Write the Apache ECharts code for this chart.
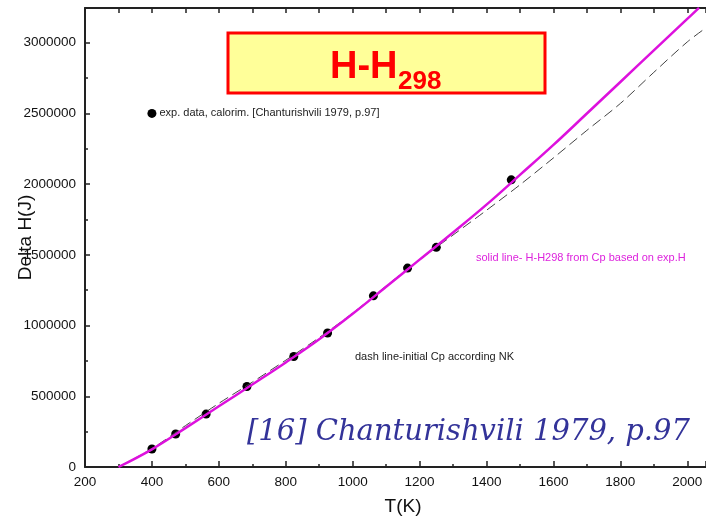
<!DOCTYPE html>
<html>
<head>
<meta charset="utf-8">
<script src="https://cdn.jsdelivr.net/npm/echarts@6/dist/echarts.min.js"></script>
<style>
html,body{margin:0;padding:0;background:#fff;}
#chart{width:706px;height:519px;}
</style>
</head>
<body>
<div id="chart"></div>
<script>
// Experimental calorimetric data [Chanturishvili 1979, p.97]
const expT = [400, 471, 562, 684, 824, 925, 1062, 1164, 1250, 1474];
const expH = [127000, 233000, 374000, 569000, 781000, 947000, 1210000, 1406000, 1553000, 2030000];

// Solid line: H-H298 from Cp based on exp.H
const solidT = [300, 400, 500, 600, 700, 800, 900, 1000, 1100, 1200, 1300, 1400, 1500, 1600, 1700, 1800, 1900, 2000, 2035];
const solidH = [0, 125000, 275000, 429000, 583000, 739000, 903000, 1083000, 1274000, 1466000, 1658000, 1855000, 2065000, 2277000, 2499000, 2722000, 2945000, 3168000, 3246000];

// Dashed line: initial Cp according NK
const dashT = [300, 400, 500, 600, 700, 800, 900, 1000, 1100, 1200, 1300, 1400, 1500, 1600, 1700, 1800, 1900, 2000, 2056];
const dashH = [0, 130000, 292000, 450000, 600000, 755000, 915000, 1088000, 1280000, 1465000, 1640000, 1815000, 1995000, 2185000, 2380000, 2570000, 2790000, 3005000, 3105000];

// Legend marker position
const legendT = [400];
const legendH = [2500000];

const xMin = 200, xMax = 2056, xStep = 200;
const yMin = 0, yMax = 3245000, yStep = 500000;

const zip = (a, b) => a.map((v, i) => [v, b[i]]);

const chart = echarts.init(document.getElementById('chart'), null, {renderer: 'canvas'});
const tickFont = {fontFamily: 'Liberation Sans, Arial, sans-serif', fontSize: 13.5, color: '#111'};

chart.setOption({
  animation: false,
  backgroundColor: '#fff',
  grid: {left: 85, right: 0, top: 8, bottom: 52, containLabel: false, outerBoundsMode: 'none'},
  xAxis: [{
    type: 'value', min: xMin, max: xMax, interval: xStep,
    position: 'bottom',
    name: 'T(K)', nameLocation: 'middle', nameGap: 30,
    nameTextStyle: {fontFamily: 'Liberation Sans, Arial, sans-serif', fontSize: 19, color: '#111', padding: [0, 0, 0, 15]},
    axisLine: {show: true, onZero: false, lineStyle: {color: '#222', width: 2}},
    axisTick: {show: true, inside: true, length: 6, lineStyle: {color: '#222', width: 1.5}},
    minorTick: {show: true, splitNumber: 2, length: 3, lineStyle: {color: '#222', width: 1.5}},
    axisLabel: Object.assign({margin: 8, showMaxLabel: false, formatter: v => String(v)}, tickFont),
    splitLine: {show: false}
  }, {
    type: 'value', min: xMin, max: xMax, interval: 100,
    position: 'top',
    axisLine: {show: true, onZero: false, lineStyle: {color: '#222', width: 2}},
    axisTick: {show: true, inside: true, length: 5, lineStyle: {color: '#222', width: 1.5}},
    axisLabel: {show: false},
    splitLine: {show: false}
  }],
  yAxis: [{
    type: 'value', min: yMin, max: yMax, interval: yStep,
    name: 'Delta H(J)', nameLocation: 'middle', nameGap: 50, nameMoveOverlap: false,
    nameTextStyle: {fontFamily: 'Liberation Sans, Arial, sans-serif', fontSize: 19, color: '#111'},
    axisLine: {show: true, onZero: false, lineStyle: {color: '#222', width: 2}},
    axisTick: {show: true, inside: true, length: 5, lineStyle: {color: '#222', width: 1.5}},
    minorTick: {show: true, splitNumber: 2, length: 3, lineStyle: {color: '#222', width: 1.5}},
    axisLabel: Object.assign({margin: 9, showMaxLabel: false, formatter: v => String(v)}, tickFont),
    splitLine: {show: false}
  }],
  series: [{
    name: 'exp. data, calorim. [Chanturishvili 1979, p.97]',
    type: 'scatter',
    data: zip(expT, expH),
    symbol: 'circle', symbolSize: 9,
    itemStyle: {color: '#000', opacity: 1},
    z: 3
  }, {
    name: 'dash line-initial Cp according NK',
    type: 'line',
    data: zip(dashT, dashH),
    showSymbol: false, smooth: 0.3,
    lineStyle: {color: '#444', width: 1, type: [10, 5]},
    z: 4
  }, {
    name: 'solid line- H-H298 from Cp based on exp.H',
    type: 'line',
    data: zip(solidT, solidH),
    showSymbol: false, smooth: 0.4,
    lineStyle: {color: '#DD11DD', width: 2.5},
    z: 5
  }, {
    name: 'legend',
    type: 'scatter',
    data: zip(legendT, legendH),
    symbol: 'circle', symbolSize: 9,
    itemStyle: {color: '#000', opacity: 1},
    label: {
      show: true, position: 'right', distance: 3,
      formatter: 'exp. data, calorim. [Chanturishvili 1979, p.97]',
      fontFamily: 'Liberation Sans, Arial, sans-serif', fontSize: 11, color: '#222'
    },
    z: 3
  }],
  graphic: [{
    type: 'rect', z: 10,
    shape: {x: 228, y: 33, width: 317, height: 60},
    style: {fill: '#FFFF99', stroke: '#FF0000', lineWidth: 3}
  }, {
    type: 'text', z: 11,
    style: {text: 'H-H', x: 330, y: 68, font: 'bold 38px "Liberation Sans", Arial, sans-serif', fill: '#FF0000', textAlign: 'left', textVerticalAlign: 'middle'}
  }, {
    type: 'text', z: 11,
    style: {text: '298', x: 398, y: 82, font: 'bold 26px "Liberation Sans", Arial, sans-serif', fill: '#FF0000', textAlign: 'left', textVerticalAlign: 'middle'}
  }, {
    type: 'text', z: 11,
    style: {text: 'solid line- H-H298 from Cp based on exp.H', x: 476, y: 258, font: '11px "Liberation Sans", Arial, sans-serif', fill: '#DD22DD', textAlign: 'left', textVerticalAlign: 'middle'}
  }, {
    type: 'text', z: 11,
    style: {text: 'dash line-initial Cp according NK', x: 355, y: 357, font: '11px "Liberation Sans", Arial, sans-serif', fill: '#222', textAlign: 'left', textVerticalAlign: 'middle'}
  }, {
    type: 'text', z: 11,
    style: {text: '[16] Chanturishvili 1979, p.97', x: 247, y: 432, font: 'italic 29px "DejaVu Serif", serif', fill: '#333399', textAlign: 'left', textVerticalAlign: 'middle'}
  }]
});
</script>
</body>
</html>
